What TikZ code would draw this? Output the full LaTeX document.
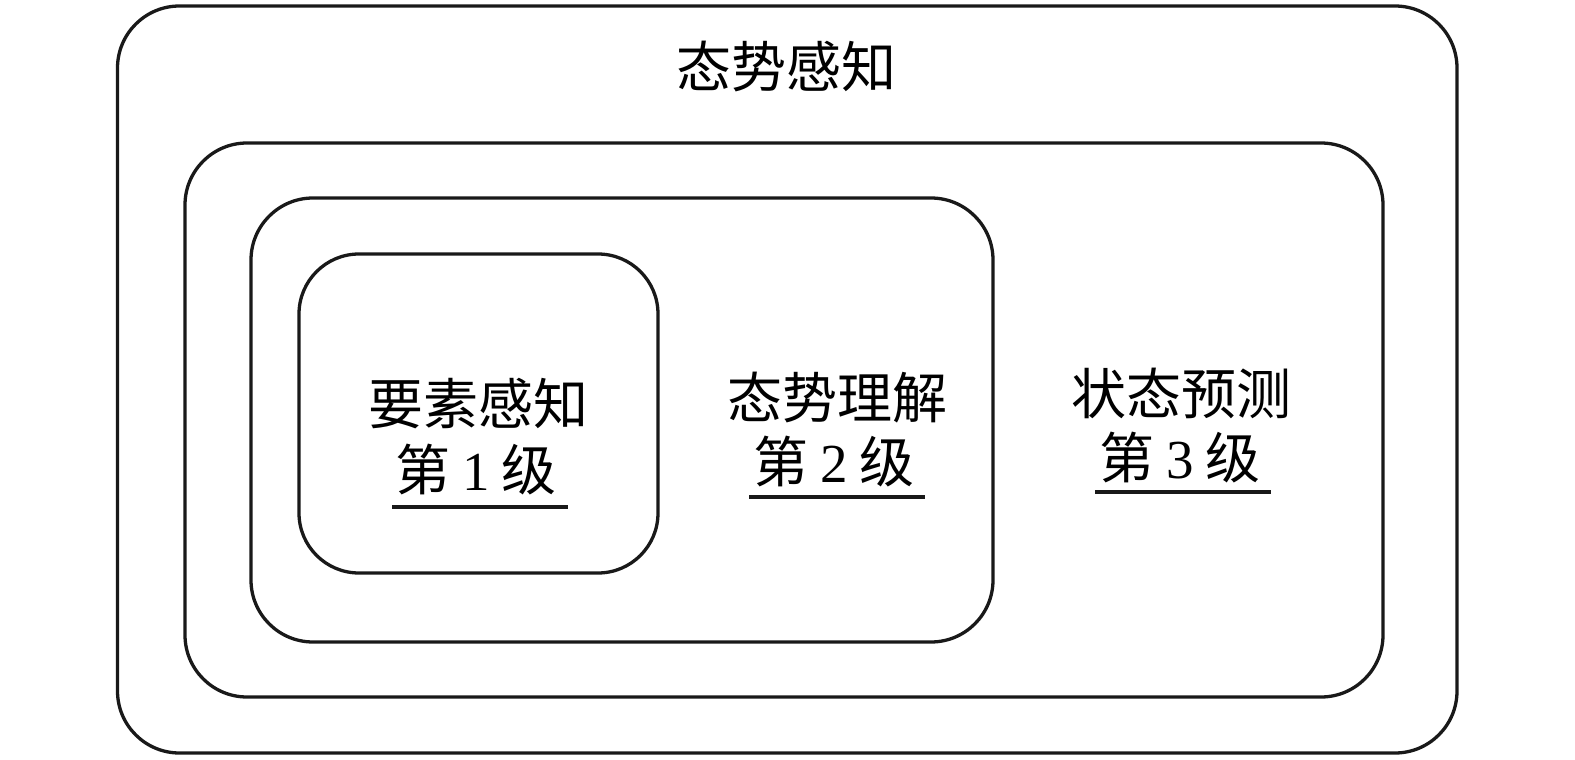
\documentclass[tikz,border=0pt]{standalone}
\usepackage{fontspec}
\setmainfont{Liberation Serif}
\newfontfamily\cjk{Noto Sans CJK SC}
\begin{document}
\begin{tikzpicture}[x=1pt,y=-1pt,
  box/.style={draw=black!90, line width=3.3pt, rounded corners=62pt, inner sep=0pt},
  lbl/.style={inner sep=0pt, font=\fontsize{55}{60}\selectfont\cjk},
  lvl/.style={inner sep=0pt, minimum width=176pt, font=\fontsize{55}{60}\selectfont},
  uline/.style={line width=3.3pt, black!90}]
\useasboundingbox (0,0) rectangle (1575,760);
\node[box, minimum width=1339.5pt, minimum height=747pt] (outer) at (787.25,379.5) {};
\node[box, minimum width=1198pt, minimum height=554pt] (second) at (784,420) {};
\node[box, minimum width=742pt, minimum height=444pt] (third) at (622,420) {};
\node[box, rounded corners=60pt, minimum width=359pt, minimum height=319pt] (inner) at (478.5,413.5) {};
\node[lbl] (title) at (786,67) {态势感知};
\node[lbl] (t1) at (478,404) {要素感知};
\node[lvl] (l1) at (476,470) {{\cjk 第}\hspace{0.22em}1\hspace{0.22em}{\cjk 级}};
\node[lbl] (t2) at (837,398) {态势理解};
\node[lvl] (l2) at (834,462) {{\cjk 第}\hspace{0.22em}2\hspace{0.22em}{\cjk 级}};
\node[lbl] (t3) at (1181,393) {状态预测};
\node[lvl] (l3) at (1180,458) {{\cjk 第}\hspace{0.22em}3\hspace{0.22em}{\cjk 级}};
\coordinate (u1a) at (392,507); \coordinate (u1b) at (568,507);
\coordinate (u2a) at (749,497); \coordinate (u2b) at (925,497);
\coordinate (u3a) at (1095,492); \coordinate (u3b) at (1271,492);
\draw[uline] (u1a) -- (u1b);
\draw[uline] (u2a) -- (u2b);
\draw[uline] (u3a) -- (u3b);
\end{tikzpicture}
\end{document}
